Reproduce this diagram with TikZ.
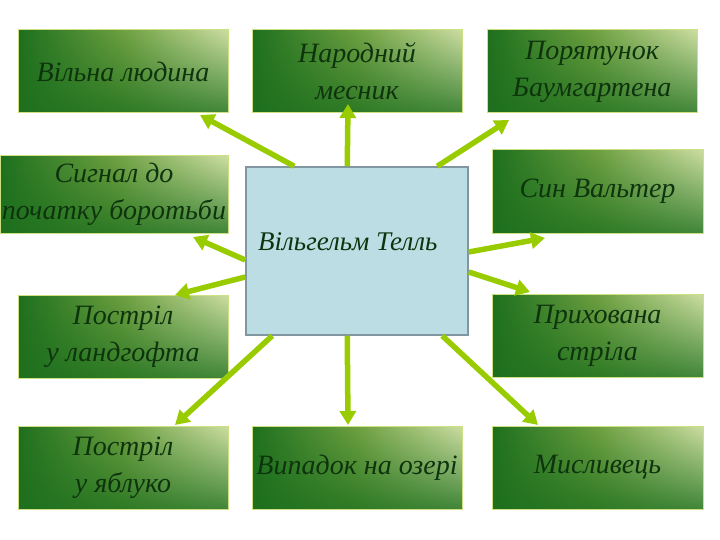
\documentclass[tikz,border=0pt]{standalone}
\usepackage{fontspec}
\setmainfont{Liberation Serif}
\usetikzlibrary{calc,arrows.meta,fadings}
\definecolor{gdark}{RGB}{30,112,30}
\definecolor{gmid}{RGB}{110,160,65}
\definecolor{glight}{RGB}{205,222,162}
\definecolor{gedge}{RGB}{205,225,130}
\definecolor{gtext}{RGB}{14,52,14}
\definecolor{tfill}{RGB}{188,221,228}
\definecolor{tedge}{RGB}{128,150,160}
\definecolor{lime}{RGB}{153,204,0}
\tikzset{
    box/.style={draw=gedge, line width=1pt, left color=gdark, right color=glight,
        middle color=gmid, minimum width=210, minimum height=83, inner sep=0pt,
        align=center, text=gtext, font=\fontsize{28}{37}\selectfont\itshape,
        path picture={\fill[gdark, opacity=0.8, path fading=north]
            (path picture bounding box.south west) rectangle (path picture bounding box.north east);}},
    tellbox/.style={draw=tedge, line width=1.5pt, fill=tfill, minimum width=222, minimum height=168},
    arr/.style={draw=lime, line width=5.5pt, -{Triangle[length=14pt,width=16pt]}}
}
\begin{document}
\begin{tikzpicture}[x=1pt,y=-1pt]
\useasboundingbox (0,0) rectangle (720,540);
\node[box] (vl) at (123,71.5) {Вільна людина};
\node[box] (nm) at (357,71.5) {Народний\\месник};
\node[box] (pb) at (592,71.5) {Порятунок\\Баумгартена};
\node[box, minimum width=228, minimum height=77] (sg) at (114,194.5) {Сигнал до\\початку боротьби};
\node[box, minimum width=211] (sv) at (597.5,191.5) {Син Вальтер};
\node[box] (pl) at (123,336.5) {Постріл\\у ландгофта};
\node[box, minimum width=211] (ps) at (597.5,336) {Прихована\\стріла};
\node[box] (pya) at (123,467.5) {Постріл\\у яблуко};
\node[box] (vo) at (357,467.5) {Випадок на озері};
\node[box, minimum width=211] (ms) at (597.5,467.5) {Мисливець};
\node[tellbox] (tell) at (357,251) {};
\node[anchor=base west, inner sep=0pt, text=gtext, font=\fontsize{27}{32}\selectfont\itshape] (name) at (258,250) {Вільгельм Телль};
% free ends of the arrows
\coordinate (e1) at (200,115);
\coordinate (e2) at (348,104);
\coordinate (e3) at (509,120);
\coordinate (e4) at (193,237);
\coordinate (e5) at (175,295);
\coordinate (e6) at (545,238);
\coordinate (e7) at (530,292);
\coordinate (e8) at (175,425);
\coordinate (e9) at (348,425);
\coordinate (e10) at (538,425);
\draw[arr] ($(tell.north west)+(49,0)$) -- (e1);
\draw[arr] ($(tell.north west)+(102,0)$) -- (e2);
\draw[arr] ($(tell.north west)+(192,0)$) -- (e3);
\draw[arr] ($(tell.west)+(0,9)$) -- (e4);
\draw[arr] ($(tell.west)+(0,26)$) -- (e5);
\draw[arr] ($(tell.east)+(0,1)$) -- (e6);
\draw[arr] ($(tell.east)+(0,21)$) -- (e7);
\draw[arr] ($(tell.south west)+(27,0)$) -- (e8);
\draw[arr] ($(tell.south west)+(102,0)$) -- (e9);
\draw[arr] ($(tell.south west)+(197,0)$) -- (e10);
\end{tikzpicture}
\end{document}
